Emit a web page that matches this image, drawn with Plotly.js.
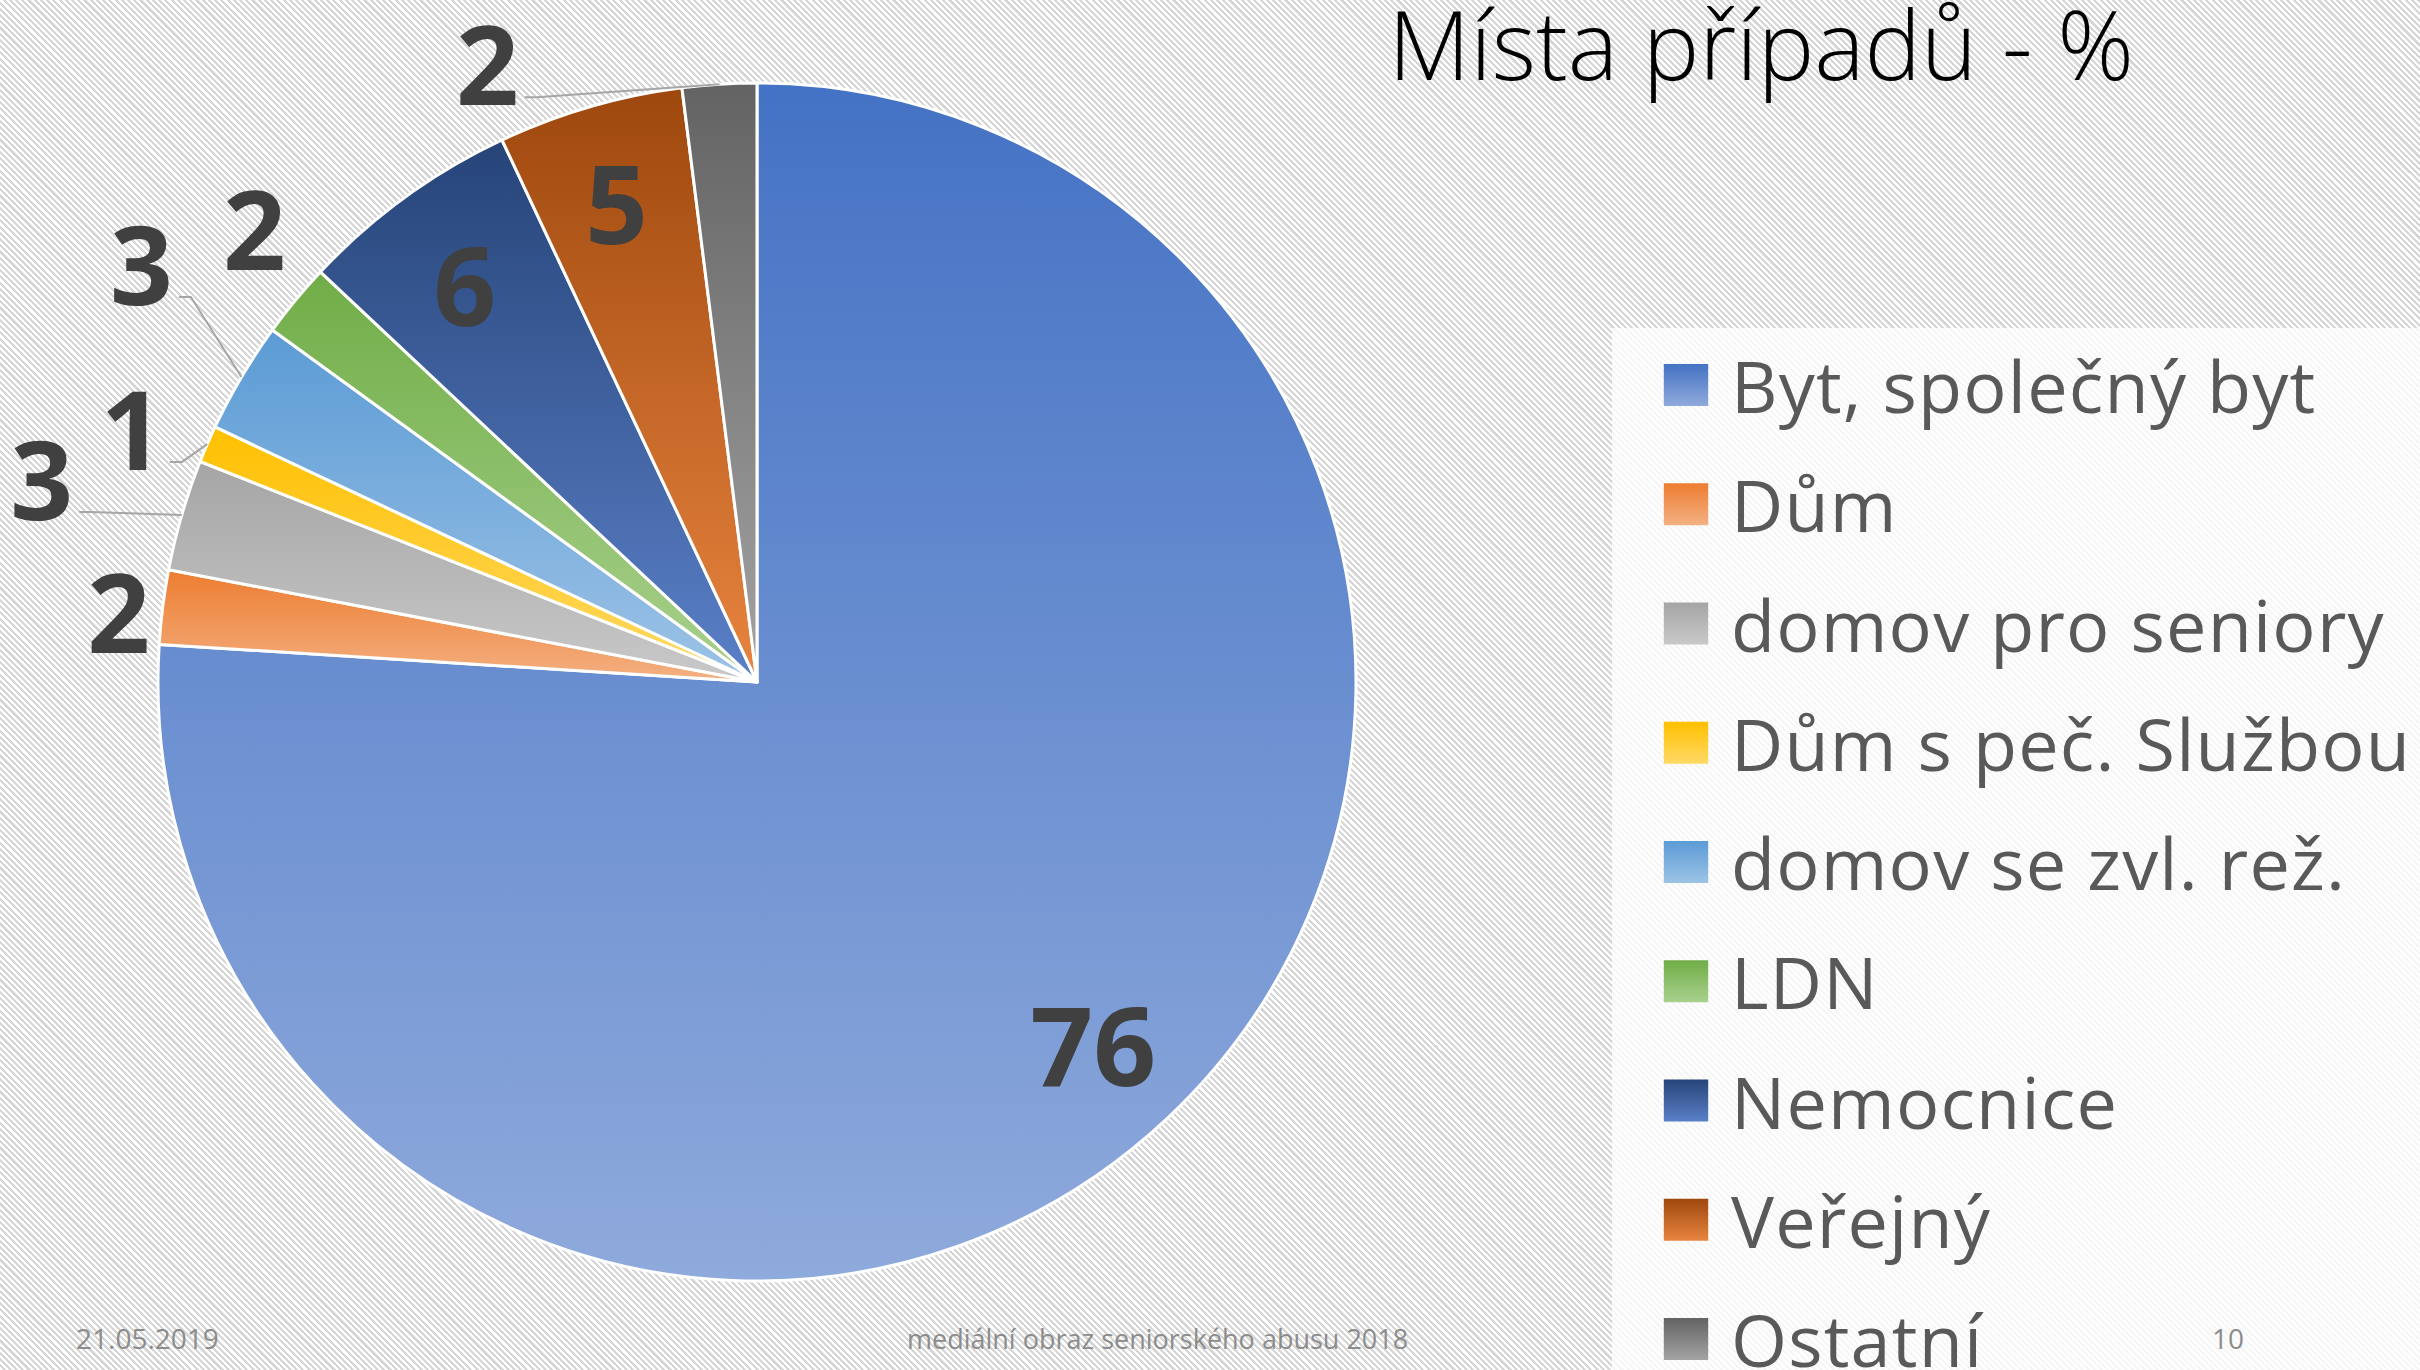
<!DOCTYPE html>
<html>
<head>
<meta charset="utf-8">
<script src="https://cdn.plot.ly/plotly-3.0.1.min.js"></script>
<style>
  html, body { margin:0; padding:0; width:2420px; height:1370px; overflow:hidden; }
  body { background: repeating-linear-gradient(45deg, #ffffff 0px, #ffffff 2.2px, #d6d6d6 2.2px, #d6d6d6 4.4px); }
  #chart { width:2420px; height:1370px; }
  .legendtext { letter-spacing: 1.2px; }
</style>
</head>
<body>
<div id="chart"></div>
<script>
// ---- data ----
const labels = ["Byt, společný byt", "Dům", "domov pro seniory", "Dům s peč. Službou", "domov se zvl. rež.", "LDN", "Nemocnice", "Veřejný", "Ostatní"];
const values = [76, 2, 3, 1, 3, 2, 6, 5, 2];
const textPositions = ["inside", "outside", "outside", "outside", "outside", "outside", "inside", "inside", "outside"];
const topColors = ["#4472C4", "#ED7D31", "#A5A5A5", "#FFC000", "#5B9BD5", "#70AD47", "#264478", "#9E480E", "#636363"];
const bottomColors = ["#8FAADC", "#F4B183", "#C9C9C9", "#FFD966", "#9DC3E6", "#A9D18E", "#5B80C8", "#E8843F", "#A3A3A3"];
const titleText = "Místa případů - %";
const footerLeft = "21.05.2019";
const footerCenter = "mediální obraz seniorského abusu 2018";
const footerRight = "10";

// ---- label placement (layout only): radial fraction, or offsets from each slice's outer-edge midpoint, px ----
const labelPlacement = [
  { radial: 0.82 },
  { dx: -44, dy: 0 },
  { dx: -140, dy: -41, leader: true },
  { dx: -75, dy: -20, leader: true },
  { dx: -100, dy: -118, leader: true },
  { dx: -41, dy: -76 },
  { radial: 0.83 },
  { radial: 0.84 },
  { dx: -232, dy: -25, leader: true }
];

const W = 2420, H = 1370;
const FONT = "Open Sans, Noto Sans, DejaVu Sans, sans-serif";

const trace = {
  type: "pie",
  labels: labels,
  values: values,
  sort: false,
  direction: "clockwise",
  rotation: 0,
  textinfo: "value",
  textposition: textPositions,
  insidetextorientation: "horizontal",
  textfont: { family: FONT, size: 110, color: "#404040", weight: "bold" },
  outsidetextfont: { family: FONT, size: 110, color: "#404040", weight: "bold" },
  insidetextfont: { family: FONT, size: 110, color: "#404040", weight: "bold" },
  marker: { colors: topColors, line: { color: "#ffffff", width: 3 } },
  domain: { x: [157 / W, 1357 / W], y: [1 - 1281 / H, 1 - 83 / H] },
  hoverinfo: "none"
};

const layout = {
  width: W, height: H,
  margin: { l: 0, r: 0, t: 0, b: 0 },
  paper_bgcolor: "rgba(0,0,0,0)",
  plot_bgcolor: "rgba(0,0,0,0)",
  showlegend: true,
  title: {
    text: titleText,
    x: 1761 / W, xanchor: "center",
    y: 1 - 47 / H, yanchor: "middle",
    font: { family: FONT, size: 95, color: "#000000", weight: 300 }
  },
  legend: {
    x: 1650 / W, y: 1 - 330 / H, xanchor: "left", yanchor: "top",
    font: { family: FONT, size: 72, color: "#595959" },
    bgcolor: "rgba(0,0,0,0)", borderwidth: 0
  },
  shapes: [{
    type: "rect", xref: "paper", yref: "paper",
    x0: 1612 / W, x1: 1, y0: 0, y1: 1 - 328 / H,
    fillcolor: "rgba(255,255,255,0.78)", line: { width: 0 }, layer: "below"
  }],
  annotations: [
    { text: footerLeft, xref: "paper", yref: "paper", x: 74 / W, y: 1 - 1338 / H, xanchor: "left", yanchor: "middle", showarrow: false, font: { family: FONT, size: 28, color: "#8c8c8c" } },
    { text: footerCenter, xref: "paper", yref: "paper", x: 1157 / W, y: 1 - 1338 / H, xanchor: "center", yanchor: "middle", showarrow: false, font: { family: FONT, size: 27, color: "#8c8c8c" } },
    { text: footerRight, xref: "paper", yref: "paper", x: 2228 / W, y: 1 - 1338 / H, xanchor: "center", yanchor: "middle", showarrow: false, font: { family: FONT, size: 28, color: "#8c8c8c" } }
  ]
};

const gd = document.getElementById("chart");
const NS = "http://www.w3.org/2000/svg";

function parseTr(s) {
  const m = /translate\(\s*([-\d.e]+)[ ,]+([-\d.e]+)\s*\)/.exec(s || "");
  return m ? { x: +m[1], y: +m[2] } : { x: 0, y: 0 };
}

function post() {
  const svg = gd.querySelector("svg.main-svg");
  const svgRect = svg.getBoundingClientRect();
  let defs = svg.querySelector("defs");
  if (!defs) { defs = document.createElementNS(NS, "defs"); svg.insertBefore(defs, svg.firstChild); }
  labels.forEach((l, i) => {
    const g = document.createElementNS(NS, "linearGradient");
    g.setAttribute("id", "grad" + i);
    g.setAttribute("x1", "0"); g.setAttribute("y1", "0");
    g.setAttribute("x2", "0"); g.setAttribute("y2", "1");
    [[0, topColors[i]], [1, bottomColors[i]]].forEach(([o, c]) => {
      const s = document.createElementNS(NS, "stop");
      s.setAttribute("offset", o); s.setAttribute("stop-color", c);
      g.appendChild(s);
    });
    defs.appendChild(g);
  });

  const cd0 = gd.calcdata[0][0];
  const cx = cd0.cx, cy = cd0.cy;

  // slices
  gd.querySelectorAll("g.slice").forEach((sg, k) => {
    const pt = sg.__data__;
    const idx = (pt && pt.i !== undefined) ? pt.i : k;
    const p = sg.querySelector("path.surface");
    if (p) p.style.fill = "url(#grad" + idx + ")";
    const tl = sg.querySelector("path.textline");
    if (tl) tl.remove();

    const pl = labelPlacement[idx];
    const txt = sg.querySelector("g.slicetext text");
    if (!pl || !txt || !pt || !pt.pxmid) return;
    const ex = cx + pt.pxmid[0], ey = cy + pt.pxmid[1];
    let tx, ty;
    if (pl.radial !== undefined) { tx = cx + pt.pxmid[0] * pl.radial; ty = cy + pt.pxmid[1] * pl.radial; }
    else { tx = ex + pl.dx; ty = ey + pl.dy; }
    const b = txt.getBoundingClientRect();
    const bx = b.left + b.width / 2 - svgRect.left, by = b.top + b.height / 2 - svgRect.top;
    const ddx = tx - bx, ddy = ty - by + 3;
    txt.setAttribute("transform", `translate(${ddx},${ddy}) ` + (txt.getAttribute("transform") || ""));
    if (pl.leader) {
      const b2 = txt.getBoundingClientRect();
      const px = b2.right - svgRect.left + 6;
      const py = ty + 38;
      const path = document.createElementNS(NS, "path");
      path.setAttribute("d", `M${ex},${ey}L${px + 12},${py}L${px},${py}`);
      path.setAttribute("fill", "none");
      path.setAttribute("stroke", "#A6A6A6");
      path.setAttribute("stroke-width", "2");
      sg.appendChild(path);
    }
  });

  // legend
  const sb = gd.querySelector(".legend .scrollbox");
  if (sb) sb.removeAttribute("clip-path");
  const items = Array.from(gd.querySelectorAll(".legend g.traces"));
  if (!items.length) return;
  const t0 = parseTr(items[0].getAttribute("transform"));
  const spacing = 119.25;
  items.forEach((it, k) => it.setAttribute("transform", `translate(${t0.x},${t0.y + k * spacing})`));
  items.forEach((it) => {
    const txt = it.querySelector("text.legendtext");
    const lbl = txt ? txt.textContent : "";
    const idx = labels.indexOf(lbl);
    const tx = txt ? +(txt.getAttribute("x") || 40) : 40;
    const sym = it.querySelector("path.legendpie");
    if (sym) {
      sym.setAttribute("transform", `translate(${tx - 45},0) scale(3.7,3.5)`);
      sym.style.fill = "url(#grad" + (idx >= 0 ? idx : 0) + ")";
      sym.style.strokeWidth = "0";
    }
  });
  const s0 = items[0].querySelector("path.legendpie").getBoundingClientRect();
  const txt0 = items[0].querySelector("text.legendtext").getBoundingClientRect();
  const dy = 385 - (s0.top + s0.height / 2);
  const dx = 1731 - txt0.left;
  items.forEach((it) => {
    const t = parseTr(it.getAttribute("transform"));
    it.setAttribute("transform", `translate(${t.x + dx},${t.y + dy})`);
  });
}

Plotly.newPlot(gd, [trace], layout, { staticPlot: true, displayModeBar: false }).then(post);
</script>
</body>
</html>
